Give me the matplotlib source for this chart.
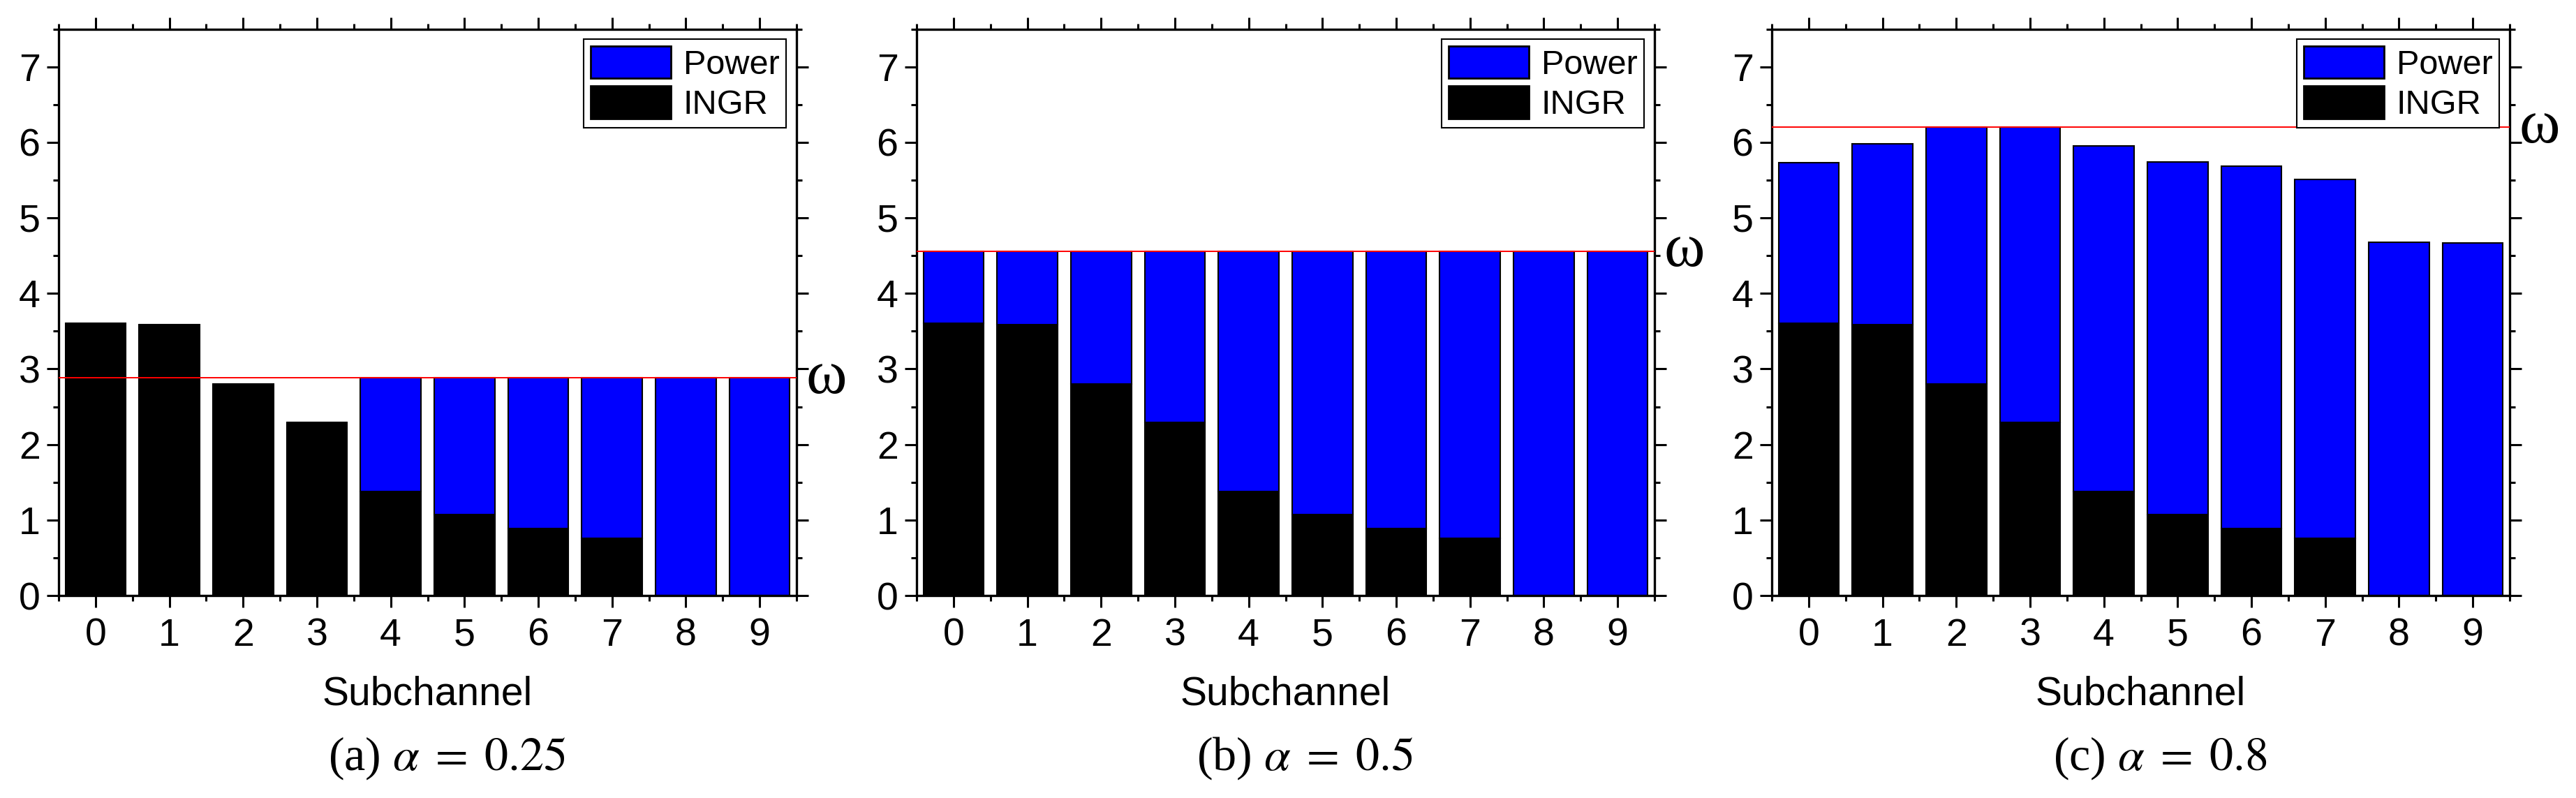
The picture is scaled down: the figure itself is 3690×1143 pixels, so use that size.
import matplotlib
matplotlib.use("Agg")
import matplotlib.pyplot as plt
import numpy as np
from matplotlib.ticker import MultipleLocator
from matplotlib.patches import Patch


SUBCHANNELS = list(range(10))
INGR = [3.60, 3.59, 2.80, 2.29, 1.38, 1.07, 0.89, 0.76, 0.0, 0.0]

POWER_A = [0.0, 0.0, 0.0, 0.0, 1.50, 1.81, 1.99, 2.12, 2.88, 2.88]
POWER_B = [0.96, 0.97, 1.76, 2.27, 3.18, 3.49, 3.67, 3.80, 4.56, 4.56]
POWER_C = [2.13, 2.39, 3.40, 3.91, 4.57, 4.67, 4.79, 4.75, 4.68, 4.67]

OMEGA = [2.88, 4.56, 6.20]
CAPTIONS = [r"(a) $\alpha\;=\;0.25$", r"(b) $\alpha\;=\;0.5$", r"(c) $\alpha\;=\;0.8$"]

W, H = 3690, 1143
AX_LEFT = [84, 1313, 2538]
AX_WIDTH = 1057
AX_TOP = 41.5
AX_BOTTOM = 853

plt.rcParams["font.family"] = ["Liberation Sans", "DejaVu Sans"]
plt.rcParams["mathtext.fontset"] = "stix"
SERIF = ["Liberation Serif", "DejaVu Serif"]


def draw_panel(ax, power, omega):
    ax.bar(SUBCHANNELS, INGR, width=0.82, color="black", edgecolor="black", linewidth=1.5, zorder=2)
    ax.bar(SUBCHANNELS, power, bottom=INGR, width=0.82, color="#0000ff", edgecolor="black",
           linewidth=1.5, zorder=2)
    ax.axhline(omega, color="red", linewidth=1.4, zorder=3)
    ax.text(1.013, omega, "ω", transform=ax.get_yaxis_transform(), fontsize=64,
            va="center", ha="left", family=SERIF)

    ax.set_xlim(-0.5, 9.5)
    ax.set_ylim(0, 7.5)
    ax.set_xticks(SUBCHANNELS)
    ax.set_yticks(range(8))
    ax.xaxis.set_minor_locator(MultipleLocator(0.5))
    ax.yaxis.set_minor_locator(MultipleLocator(0.5))
    ax.tick_params(which="both", direction="out", top=True, right=True, width=2.2)
    ax.tick_params(which="major", length=12, labelsize=40)
    ax.tick_params(which="minor", length=6)
    ax.tick_params(axis="x", which="major", pad=11)
    ax.tick_params(axis="y", which="major", pad=7)
    for spine in ax.spines.values():
        spine.set_linewidth(2.4)
    ax.set_xlabel("Subchannel", fontsize=41, labelpad=22)

    handles = [
        Patch(facecolor="#0000ff", edgecolor="black", linewidth=2.0, label="Power"),
        Patch(facecolor="black", edgecolor="black", linewidth=2.0, label="INGR"),
    ]
    leg = ax.legend(handles=handles, loc="upper right", fontsize=35, frameon=True, fancybox=False,
                    edgecolor="black", framealpha=1, borderpad=0.2, labelspacing=0.15,
                    handlelength=2.37, handleheight=1.1, handletextpad=0.37, borderaxespad=0.3)
    leg.get_frame().set_linewidth(1.5)


fig = plt.figure(figsize=(W / 100, H / 100), dpi=100)
for left, power, omega, caption in zip(AX_LEFT, [POWER_A, POWER_B, POWER_C], OMEGA, CAPTIONS):
    ax = fig.add_axes([left / W, (H - AX_BOTTOM) / H, AX_WIDTH / W, (AX_BOTTOM - AX_TOP) / H])
    draw_panel(ax, power, omega)
    fig.text((left + 556) / W, (H - 1086) / H, caption, fontsize=49, ha="center", va="center",
             family=SERIF)

fig.savefig("out.png", dpi=100)
